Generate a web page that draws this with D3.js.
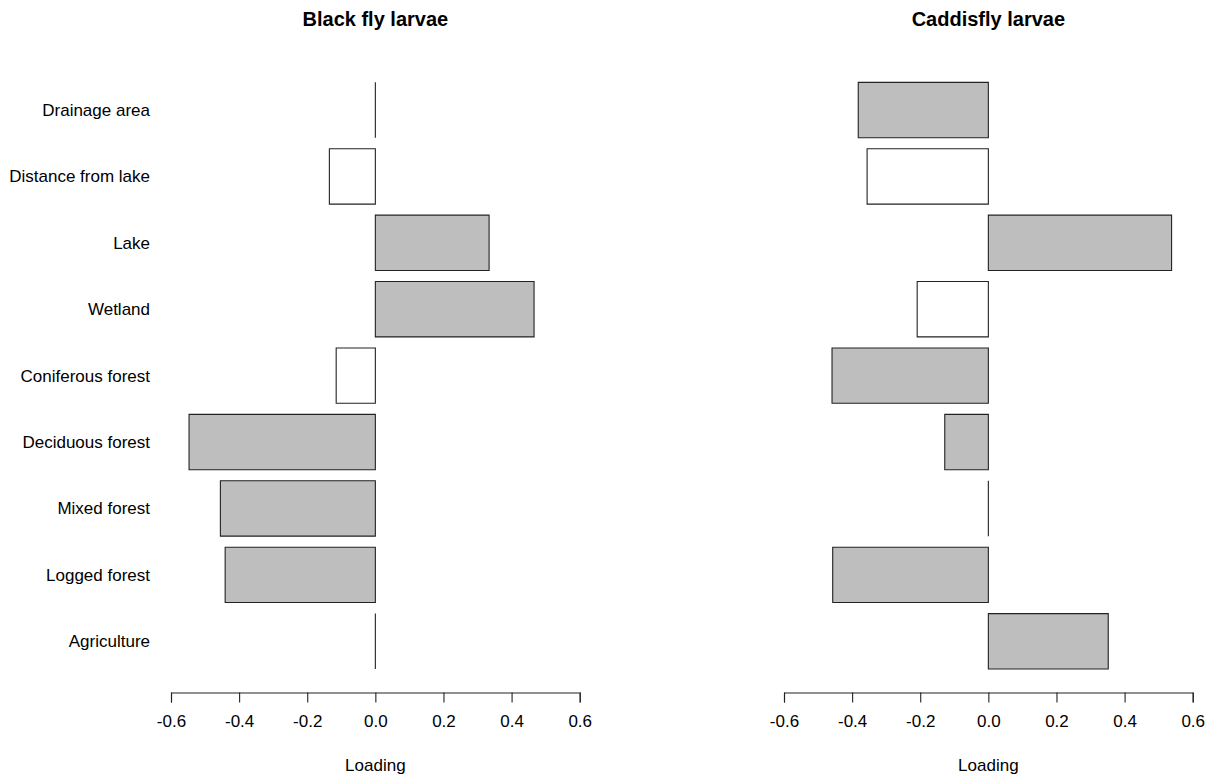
<!DOCTYPE html>
<html><head><meta charset="utf-8">
<script src="https://cdn.jsdelivr.net/npm/d3@7/dist/d3.min.js"></script>
<style>body{margin:0;background:#fff;} text{font-family:"Liberation Sans",Arial,sans-serif;}</style>
</head><body>
<svg id="chart" width="1214" height="774"></svg>
<script>
const variables = ["Drainage area","Distance from lake","Lake","Wetland","Coniferous forest","Deciduous forest","Mixed forest","Logged forest","Agriculture"];
const blackFlyLoadings = [0, -0.135, 0.334, 0.466, -0.115, -0.547, -0.455, -0.441, 0];
const blackFlyFilled  = [true, false, true, true, false, true, true, true, true];
const caddisLoadings = [-0.382, -0.356, 0.538, -0.209, -0.459, -0.128, 0, -0.457, 0.352];
const caddisFilled  = [true, false, true, false, true, true, true, true, true];
const xTicks = [-0.6, -0.4, -0.2, 0.0, 0.2, 0.4, 0.6];
const panelTitles = ["Black fly larvae", "Caddisfly larvae"];

const svg = d3.select("#chart");
const y = d3.scaleBand().domain(variables).range([76.8, 674.5]).paddingInner(1/6).paddingOuter(1/12);
const fmt = v => d3.format(".1f")(v).replace("\u2212", "-");

const panels = [
  {title: panelTitles[0], values: blackFlyLoadings, filled: blackFlyFilled, range: [171, 579.7], labels: true},
  {title: panelTitles[1], values: caddisLoadings, filled: caddisFilled, range: [784, 1192.7], labels: false}
];

panels.forEach(p => {
  const x = d3.scaleLinear().domain([-0.6, 0.6]).range(p.range);
  const g = svg.append("g");
  g.append("text").attr("x", x(0)).attr("y", 26).attr("text-anchor","middle")
    .attr("font-size", 20).attr("font-weight","bold").attr("fill","#000").text(p.title);
  g.selectAll("path.bar").data(variables).join("path")
    .attr("d", (d,i) => {
      const x0 = x(0), x1 = x(p.values[i]), y0 = y(d), y1 = y(d) + y.bandwidth();
      return `M${x0},${y0}L${x1},${y0}L${x1},${y1}L${x0},${y1}Z`;
    })
    .attr("fill", (d,i) => p.filled[i] ? "#bebebe" : "#ffffff")
    .attr("stroke", "#222").attr("stroke-width", 1.1);
  if (p.labels) {
    g.selectAll("text.lab").data(variables).join("text")
      .attr("x", 150).attr("y", d => y(d) + y.bandwidth()/2).attr("dy","0.35em")
      .attr("text-anchor","end").attr("font-size", 17).attr("fill","#000").text(d => d);
  }
  const ax = g.append("g").attr("transform","translate(0,692.5)")
    .call(d3.axisBottom(x).tickValues(xTicks).tickFormat(fmt).tickSize(10).tickPadding(12));
  ax.select(".domain").attr("stroke","#222").attr("stroke-width",1.1);
  ax.selectAll(".tick line").attr("stroke","#222").attr("stroke-width",1.1);
  ax.selectAll(".tick text").attr("font-size",17).attr("fill","#000").attr("font-family","Liberation Sans, Arial, sans-serif");
  g.append("text").attr("x", x(0)).attr("y", 771).attr("text-anchor","middle")
    .attr("font-size",17).attr("fill","#000").text("Loading");
});
</script>
</body></html>
